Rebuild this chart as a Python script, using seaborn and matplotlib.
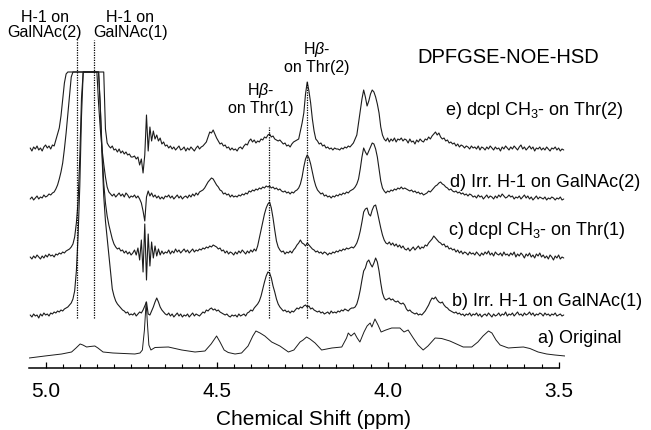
import numpy as np
import pandas as pd
import matplotlib
matplotlib.use("Agg")
import matplotlib.pyplot as plt
from matplotlib.ticker import FixedLocator, MultipleLocator
import seaborn as sns

# shift grid for the four difference spectra (ppm, 0.005 step, 5.045 -> 3.485)
grid_start = 5.045
grid_step = 0.005
grid_n = 313

# intensities (pixels above each trace's own baseline)
# one row = 0.1 ppm
e_int = [
    1, -2, 2, 0, 3, -1, 1, -2, 2, 4, 1, 3, 0, 4, 3, 9, 15, 21, 33, 50,
    66, 75, 77, 77, 77, 77, 77, 77, 77, 77, 77, 77, 77, 77, 77, 77, 77, 77, 77, 77,
    77, 77, 77, 77, 20, 6, 3, 1, 3, -1, 0, -3, 0, -4, -2, -5, -3, -6, -5, -8,
    -8, -7, -10, -8, -16, -10, -24, -6, 34, -2, 22, 8, 18, 10, 14, 8, 11, 5, 7, 3,
    4, 1, 3, 0, 2, -1, 1, 3, -1, 0, 2, -2, 1, -1, 2, 0, -2, 1, 3, 0,
    2, 3, 5, 7, 12, 17, 16, 19, 15, 11, 8, 5, 6, 3, 4, 1, 2, -1, 1, -1,
    0, -2, 1, 2, 0, 3, 5, 4, 8, 10, 7, 9, 6, 8, 7, 10, 9, 12, 11, 14,
    15, 12, 13, 10, 9, 8, 9, 7, 5, 6, 3, 4, 2, 5, 7, 8, 9, 10, 18, 26,
    36, 55, 67, 58, 46, 30, 18, 10, 8, 5, 6, 3, 4, 1, 2, 0, 1, -1, 1, 0,
    0, -1, 1, 0, 2, 1, 3, 2, 4, 6, 10, 14, 26, 38, 50, 59, 52, 43, 48, 55,
    59, 57, 52, 45, 36, 22, 14, 10, 8, 11, 7, 10, 8, 11, 7, 10, 9, 11, 8, 10,
    9, 6, 10, 7, 8, 5, 9, 7, 10, 8, 7, 10, 9, 12, 10, 13, 15, 17, 14, 16,
    12, 10, 11, 8, 9, 6, 7, 5, 6, 3, 5, 2, 4, 3, 1, 3, 2, 0, 3, 1,
    2, 0, 3, -1, 2, 1, -1, 2, 0, 3, 1, -1, 2, 0, 1, -2, 2, 0, 3, 1,
    -1, 2, 0, 3, 1, -1, 2, 4, 0, 2, -1, 1, 3, 0, 2, -2, 1, 0, 2, -1,
    1, -1, 2, 0, -2, 1, 0, 2, -1, 1, -2, 0, -1,
]
d_int = [
    0, 2, -1, 1, 3, 0, 2, 1, 4, 2, 3, 5, 4, 6, 7, 10, 14, 20, 27, 36,
    50, 66, 85, 104, 122, 127, 127, 127, 127, 127, 127, 127, 127, 127, 127, 127, 127, 127, 127, 127,
    95, 70, 50, 35, 22, 12, 7, 5, 3, 5, 2, 4, 6, 3, 5, 2, 6, 4, 1, 3,
    2, 4, 1, 3, 0, -4, -12, -22, 2, 8, 3, 6, 2, 4, 1, 3, 0, 2, 0, 3,
    2, 4, 1, 3, 0, 2, 4, 1, 3, 0, 2, 3, 1, 4, 2, 5, 3, 6, 4, 7,
    8, 9, 11, 14, 17, 19, 21, 20, 17, 14, 12, 9, 8, 5, 6, 4, 5, 2, 4, 2,
    3, 2, 4, 3, 5, 4, 6, 5, 8, 7, 9, 8, 10, 9, 11, 10, 12, 11, 13, 12,
    13, 11, 12, 10, 11, 9, 10, 8, 7, 8, 6, 7, 5, 7, 6, 8, 9, 11, 15, 22,
    32, 40, 44, 41, 35, 27, 19, 13, 9, 7, 5, 6, 3, 4, 2, 3, 1, 3, 2, 4,
    3, 5, 4, 6, 5, 7, 6, 8, 9, 10, 12, 15, 20, 30, 42, 51, 47, 44, 48, 52,
    56, 55, 50, 42, 30, 18, 11, 8, 6, 8, 7, 9, 8, 10, 9, 11, 10, 12, 10, 11,
    10, 9, 8, 9, 7, 8, 6, 7, 5, 6, 4, 5, 6, 8, 7, 9, 11, 13, 14, 16,
    17, 15, 14, 12, 11, 9, 10, 8, 7, 8, 6, 7, 5, 6, 4, 5, 3, 5, 4, 2,
    3, 1, 4, 2, 3, 0, 2, 4, 1, 3, 2, 0, 3, 1, 4, 2, 5, 3, 1, 2,
    4, 2, 3, 0, 2, 1, 3, 0, 2, 4, 1, 3, 0, 2, -1, 1, 3, 0, 2, 1,
    0, 2, -1, 1, 0, 2, 1, -1, 1, 0, 2, -1, 0,
]
c_int = [
    1, -1, 2, 0, 3, 1, -1, 2, 0, 3, 1, 4, 2, 3, 1, 4, 3, 5, 4, 6,
    5, 7, 8, 9, 11, 14, 21, 35, 56, 100, 160, 186, 186, 186, 186, 186, 186, 186, 186, 186,
    186, 150, 110, 75, 55, 42, 33, 26, 19, 14, 11, 9, 10, 7, 8, 5, 7, 4, 6, 3,
    5, 8, 3, 10, -2, 18, -14, 34, -22, 24, -8, 16, 0, 12, 2, 9, 3, 7, 4, 6,
    5, 8, 4, 7, 5, 9, 6, 8, 5, 7, 9, 6, 8, 5, 7, 9, 6, 8, 7, 9,
    8, 10, 9, 11, 10, 12, 11, 13, 12, 11, 9, 10, 7, 8, 5, 7, 4, 6, 5, 3,
    6, 4, 7, 5, 8, 6, 4, 7, 5, 8, 6, 9, 7, 12, 20, 28, 36, 44, 50, 54,
    56, 50, 40, 28, 17, 11, 8, 6, 7, 4, 6, 5, 7, 5, 8, 10, 13, 15, 18, 15,
    14, 12, 15, 13, 11, 9, 8, 6, 7, 5, 6, 4, 6, 5, 3, 5, 4, 6, 5, 7,
    6, 8, 7, 9, 8, 10, 9, 10, 11, 10, 12, 15, 20, 27, 36, 46, 49, 50, 44, 42,
    48, 52, 53, 46, 38, 30, 23, 18, 15, 14, 16, 13, 15, 12, 14, 11, 13, 10, 12, 9,
    8, 10, 7, 9, 11, 8, 10, 12, 9, 11, 10, 13, 12, 15, 17, 19, 22, 20, 18, 16,
    15, 13, 14, 11, 12, 9, 10, 8, 9, 6, 8, 5, 7, 4, 6, 5, 3, 6, 4, 5,
    3, 6, 4, 2, 5, 3, 6, 4, 7, 3, 5, 2, 6, 4, 3, 5, 2, 6, 3, 4,
    2, 5, 3, 6, 1, 4, 2, 5, 3, 0, 4, 2, 5, 1, 3, 0, 4, 2, 5, 1,
    3, 0, 2, -1, 3, 1, -2, 2, 0, 3, -1, 1, 0,
]
b_int = [
    1, -1, 2, 0, 1, -2, 2, 0, 3, 1, 2, 0, 3, 2, 4, 3, 5, 4, 6, 5,
    7, 8, 9, 11, 13, 17, 25, 45, 80, 130, 200, 244, 244, 244, 244, 244, 244, 244, 244, 244,
    244, 210, 160, 120, 95, 78, 60, 45, 27, 20, 15, 12, 10, 8, 6, 5, 3, 4, 1, 2,
    1, 3, 0, 2, 4, 3, 6, 10, 14, 2, 1, 5, 9, 14, 18, 14, 9, 6, 4, 2,
    1, 3, 0, 2, -1, 1, 3, 0, 2, -1, 1, 0, 2, -1, 1, 3, 0, 2, 1, 0,
    2, 4, 3, 6, 5, 7, 8, 6, 7, 5, 6, 4, 3, 2, 1, 2, 0, -1, 1, 0,
    1, -1, 2, 0, 1, 2, 0, 3, 4, 6, 5, 8, 10, 12, 15, 20, 27, 34, 40, 44,
    43, 38, 30, 24, 17, 12, 9, 7, 5, 6, 4, 5, 3, 5, 4, 6, 8, 7, 9, 8,
    10, 11, 9, 10, 7, 8, 6, 5, 4, 5, 3, 4, 2, 3, 4, 2, 5, 3, 4, 3,
    5, 4, 6, 5, 7, 6, 5, 7, 8, 8, 9, 12, 18, 26, 36, 45, 48, 54, 56, 52,
    49, 53, 58, 54, 45, 33, 23, 18, 16, 17, 18, 16, 17, 15, 14, 15, 13, 12, 13, 11,
    7, 5, 6, 4, 3, 2, 3, 1, 2, 1, 3, 5, 8, 11, 15, 18, 17, 19, 16, 14,
    13, 14, 11, 9, 8, 6, 5, 4, 3, 4, 2, 3, 1, 2, 0, 2, 1, 3, 0, 2,
    1, 3, 0, 2, -1, 1, 2, 0, 3, 1, -1, 2, 0, 1, 3, 0, 2, 1, 4, 0,
    2, 1, 3, 0, 2, 4, 1, 2, 0, 3, 1, 2, 4, 1, 3, 0, 2, 1, 3, 2,
    0, 3, 1, 2, 0, 2, 1, 3, 0, 1, 2, 0, 1,
]

# original spectrum, read at its turning points
a_ppm = [5.048, 5.002, 4.953, 4.924, 4.911, 4.899, 4.891, 4.880, 4.870, 4.856,
         4.847, 4.832, 4.803, 4.739, 4.724, 4.717, 4.711, 4.706, 4.702, 4.698,
         4.692, 4.680, 4.641, 4.602, 4.563, 4.534, 4.516, 4.500, 4.490, 4.478,
         4.466, 4.446, 4.427, 4.408, 4.394, 4.385, 4.373, 4.359, 4.339, 4.315,
         4.290, 4.274, 4.256, 4.247, 4.237, 4.227, 4.212, 4.193, 4.163, 4.134,
         4.120, 4.115, 4.107, 4.097, 4.089, 4.081, 4.069, 4.060, 4.051, 4.046,
         4.037, 4.028, 4.019, 4.005, 3.988, 3.975, 3.964, 3.952, 3.940, 3.925,
         3.911, 3.896, 3.882, 3.861, 3.842, 3.818, 3.779, 3.754, 3.736, 3.721,
         3.705, 3.695, 3.683, 3.671, 3.647, 3.627, 3.603, 3.584, 3.560, 3.535,
         3.511, 3.481]
a_int = [0, 2, 4, 6, 10, 14, 13, 11, 11.5, 12,
         10, 6, 5, 4, 5, 8, 28, 56, 33, 13,
         8, 10.5, 11, 8, 6, 7, 14, 22, 16, 8,
         5.5, 4, 5, 12, 22, 27, 25, 22, 16, 12,
         6, 8, 16, 18, 21, 19, 15, 8, 10, 11,
         20, 25, 22, 25, 20, 16, 26, 32, 35, 31,
         39, 33, 26, 28, 30, 30, 30, 26, 28, 20,
         13, 8, 12, 20, 19.5, 17, 11, 11, 16, 22,
         27, 25, 18, 13, 10, 10.5, 11, 9.5, 6, 4,
         3, 2]

labels = ["a) Original", "b) Irr. H-1 on GalNAc(1)", "c) dcpl CH$_3$- on Thr(1)",
          "d) Irr. H-1 on GalNAc(2)", "e) dcpl CH$_3$- on Thr(2)"]

# stacking offsets (pixels above the axis line) and label spots
offsets = {"a": 10, "b": 52, "c": 110, "d": 169, "e": 219}
label_pos = {"a": (3.560, 24.7), "b": (3.812, 62), "c": (3.823, 133),
             "d": (3.818, 181), "e": (3.832, 253)}

grid = grid_start - grid_step * np.arange(grid_n)
frames = [pd.DataFrame({"ppm": a_ppm, "y": np.array(a_int) + offsets["a"], "trace": "a"})]
for key, vals in [("b", b_int), ("c", c_int), ("d", d_int), ("e", e_int)]:
    frames.append(pd.DataFrame({"ppm": grid, "y": np.array(vals) + offsets[key], "trace": key}))
spec = pd.concat(frames, ignore_index=True)

sns.set_theme(style="white")
plt.rcParams["font.family"] = ["Liberation Sans", "DejaVu Sans"]
plt.rcParams["mathtext.fontset"] = "custom"
plt.rcParams["mathtext.rm"] = "Liberation Sans"
plt.rcParams["mathtext.it"] = "Liberation Sans:italic"
plt.rcParams["text.color"] = "black"

fig = plt.figure(figsize=(6.51, 4.30), dpi=100)
ax = fig.add_axes([0.04455, 0.14419, 0.82335, 0.80930])

for key in ["a", "b", "c", "d", "e"]:
    sub = spec[spec["trace"] == key]
    sns.lineplot(data=sub, x="ppm", y="y", sort=False, estimator=None,
                 color="#1c1c1c", lw=0.7 if key == "a" else 0.8, ax=ax)

# dotted guide lines at the irradiated / observed protons
for x, top in [(4.907, 328), (4.858, 328), (4.347, 241), (4.2366, 286)]:
    ax.plot([x, x], [50, top], color="black", lw=0.9, ls=(0, (1, 1)))

ax.set_xlim(5.0485, 3.4813)
ax.set_ylim(0, 348)
ax.set_xlabel("")
ax.set_ylabel("")
ax.set_yticks([])
for side in ["left", "right", "top"]:
    ax.spines[side].set_visible(False)
ax.spines["bottom"].set_bounds(3.5, 5.0485)
ax.spines["bottom"].set_linewidth(1.1)
ax.spines["bottom"].set_color("black")
ax.xaxis.set_major_locator(FixedLocator([5.0, 4.5, 4.0, 3.5]))
ax.xaxis.set_minor_locator(MultipleLocator(0.05))
ax.set_xticklabels(["5.0", "4.5", "4.0", "3.5"])
ax.tick_params(axis="x", which="major", direction="in", length=4, width=0.9,
               colors="black", labelcolor="black", labelsize=15, pad=10, bottom=True)
ax.tick_params(axis="x", which="minor", direction="in", length=3, width=0.8,
               colors="black", bottom=True)
ax.patch.set_alpha(0)

for key, text in zip(["a", "b", "c", "d", "e"], labels):
    x, y = label_pos[key]
    ax.text(x, y, text, fontsize=13, ha="left", va="baseline", color="black")

ann = dict(fontsize=11.5, ha="center", va="center", linespacing=1.05,
           multialignment="center", color="black")
ax.text(5.002, 343, "H-1 on\nGalNAc(2)", **ann)
ax.text(4.753, 343, "H-1 on\nGalNAc(1)", **ann)
ax.text(4.370, 269.5, "H$\\beta$-\non Thr(1)", **ann)
ax.text(4.206, 310.5, "H$\\beta$-\non Thr(2)", **ann)
ax.text(3.648, 310.5, "DPFGSE-NOE-HSD", fontsize=14.5, ha="center", va="center",
        color="black")

fig.text(314 / 651, 5 / 430, "Chemical Shift (ppm)", fontsize=15, ha="center",
         va="baseline", color="black")

fig.savefig("out.png", dpi=100)
